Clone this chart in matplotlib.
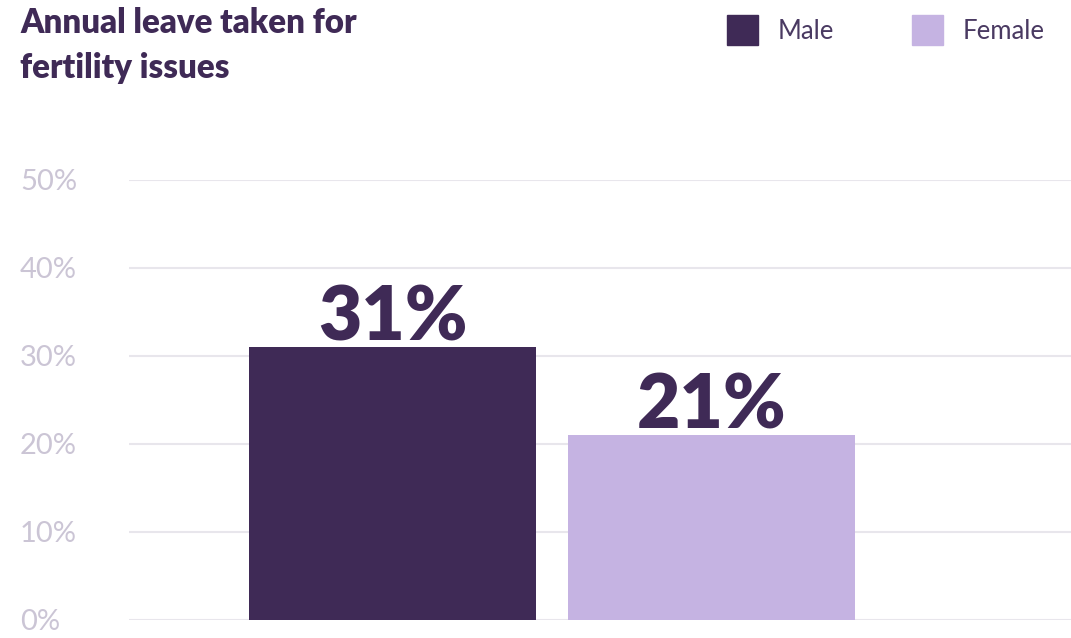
import matplotlib
matplotlib.use("Agg")
import matplotlib.pyplot as plt
from matplotlib.patches import Rectangle

categories = ["Male", "Female"]
values = [31, 21]
value_labels = ["31%", "21%"]
yticks = [0, 10, 20, 30, 40, 50]
ytick_labels = ["0%", "10%", "20%", "30%", "40%", "50%"]
colors = ["#3f2a56", "#c5b3e2"]
title_lines = ["Annual leave taken for", "fertility issues"]

W, H = 1071, 638
fig = plt.figure(figsize=(W / 100, H / 100), dpi=100)
ax = fig.add_axes([129 / W, (H - 620) / H, 1 - 129 / W, 440 / H])

x = list(range(len(categories)))
ax.bar(x, values, width=0.9, color=colors, zorder=2)
ax.set_xlim(-0.826, 2.127)
ax.set_ylim(0, 50)
ax.set_yticks(yticks)
ax.set_yticklabels([])
ax.tick_params(left=False, bottom=False, labelbottom=False)
for s in ax.spines.values():
    s.set_visible(False)
ax.grid(axis="y", color="#e8e6ec", linewidth=1.5, zorder=0)
ax.set_xticks([])

fig.canvas.draw()
for yv, lab in zip(yticks, ytick_labels):
    ypix = ax.transData.transform((0, yv))[1]
    fig.text(20 / W, (ypix - 10) / H, lab,
             ha="left", va="baseline", fontsize=21, color="#cbc5d5",
             family="Lato", fontweight="normal")

for xi, v, lab in zip(x, values, value_labels):
    ax.annotate(lab, (xi, v), xytext=(0, 4.5), textcoords="offset points",
                ha="center", va="baseline", fontsize=54, fontweight="heavy",
                family="Lato", color="#3f2a56")

for i, (line, base) in enumerate(zip(title_lines, [33, 78])):
    fig.text(20 / W, 1 - base / H, line, ha="left", va="baseline", fontsize=23.8,
             fontweight="heavy", family="Lato", color="#3f2a56")

# legend
leg_x = [727, 912]
for lx, c, name in zip(leg_x, colors, categories):
    fig.patches.append(Rectangle((lx / W, 1 - 45 / H), 31 / W, 30 / H,
                                 transform=fig.transFigure, color=c))
    fig.text((lx + 51) / W, 1 - 39 / H, name, ha="left", va="baseline",
             fontsize=18.5, family="Lato", color="#4a3a62")

fig.savefig("out.png", dpi=100)
